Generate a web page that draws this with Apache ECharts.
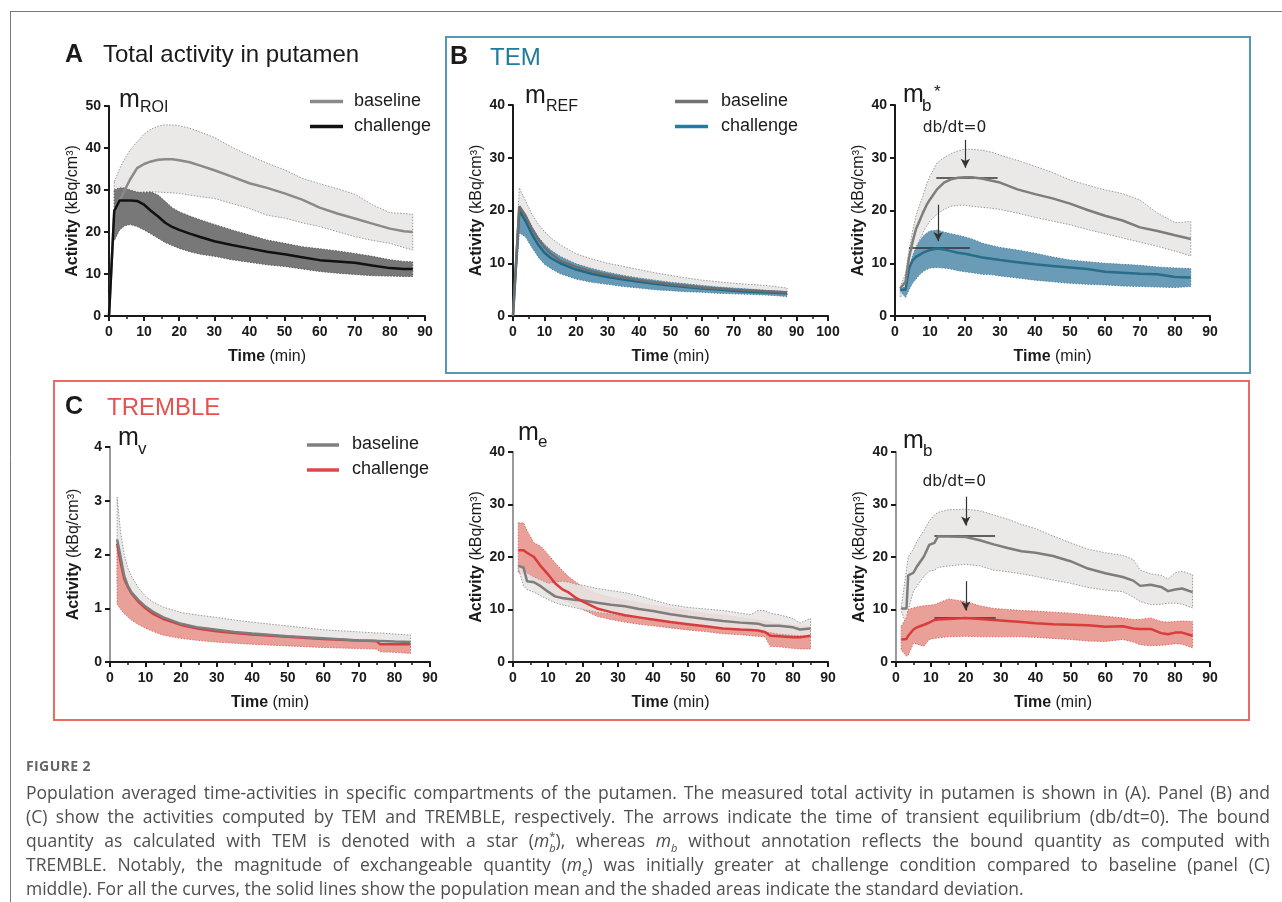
<!DOCTYPE html>
<html><head><meta charset="utf-8">
<script src="https://cdn.jsdelivr.net/npm/echarts/dist/echarts.min.js"></script>
<style>
html,body{margin:0;padding:0;background:#fff;}
#chart{position:absolute;left:0;top:0;width:1282px;height:902px;}
#cap{position:absolute;left:26px;top:756px;width:1244px;font-family:'Open Sans',Lato,sans-serif;color:#4f4f4f;}
.fig{font-weight:bold;font-size:14px;color:#666;letter-spacing:0.4px;line-height:20px;height:20px;margin-bottom:4px;font-family:'Open Sans',Lato,sans-serif;}
.ln{font-size:17.5px;line-height:24px;height:24px;text-align:justify;text-align-last:justify;overflow:visible;}
.ln.last{text-align-last:left;}
.ln sub,.ln sup{font-size:11px;line-height:0;}
</style></head>
<body>
<div id="chart"></div>
<div id="cap">
<div class="fig">FIGURE 2</div>
<div class="ln">Population averaged time-activities in specific compartments of the putamen. The measured total activity in putamen is shown in (A). Panel (B) and</div>
<div class="ln">(C) show the activities computed by TEM and TREMBLE, respectively. The arrows indicate the time of transient equilibrium (db/dt=0). The bound</div>
<div class="ln">quantity as calculated with TEM is denoted with a star (<i>m</i><sup>*</sup><sub style="margin-left:-6px"><i>b</i></sub>), whereas <i>m<sub>b</sub></i> without annotation reflects the bound quantity as computed with</div>
<div class="ln">TREMBLE. Notably, the magnitude of exchangeable quantity (<i>m<sub>e</sub></i>) was initially greater at challenge condition compared to baseline (panel (C)</div>
<div class="ln last">middle). For all the curves, the solid lines show the population mean and the shaded areas indicate the standard deviation.</div>
</div>
<script>
// ---------- DATA ----------
// Panel A: total activity in putamen (m_ROI)
const A_time      = [0, 1.5, 3, 4.5, 6, 8, 10, 12, 14, 16, 18, 20, 23, 26, 30, 35, 40, 45, 50, 55, 60, 65, 70, 75, 80, 84, 86.5];
const A_base_mean = [0, 25, 27.5, 30, 32.5, 35.2, 36.2, 36.8, 37.2, 37.3, 37.3, 37.1, 36.6, 35.8, 34.7, 33.2, 31.6, 30.5, 29.2, 27.7, 25.8, 24.4, 23.2, 22, 20.8, 20.2, 20];
const A_base_up   = [null, 32, 35, 37.5, 39.5, 41.5, 43.3, 44.5, 45.2, 45.5, 45.5, 45.3, 44.7, 43.8, 42.5, 40.2, 38.2, 36.4, 34.8, 32.8, 31.5, 30.3, 29, 26.5, 24.6, 24.4, 24.2];
const A_base_lo   = [null, 18, 21, 24, 27, 29.2, 29.6, 29.6, 29.5, 29.4, 29.3, 29.2, 28.8, 28.4, 28, 26.8, 25.6, 24, 23.3, 22.2, 21.3, 20.1, 18.9, 18, 17.3, 16.3, 15.7];
const A_chal_mean = [0, 25, 27.5, 27.5, 27.5, 27.4, 26.5, 25, 23.7, 22.2, 21.2, 20.5, 19.6, 18.8, 17.8, 16.9, 16.1, 15.3, 14.7, 14, 13.3, 13, 12.7, 12, 11.4, 11.2, 11.2];
const A_chal_up   = [null, 30, 30.5, 30.5, 30, 29.5, 29.4, 29.5, 28.8, 27.3, 25.8, 24.8, 23.8, 22.9, 21.8, 20.5, 19.3, 18.1, 17.3, 16.5, 16, 15.5, 14.9, 14.2, 13.4, 13, 12.9];
const A_chal_lo   = [null, 18, 20.5, 21.5, 21.8, 21.3, 20.5, 19.5, 18.5, 17.5, 16.8, 16.1, 15.3, 14.7, 14.2, 13.4, 12.8, 12.2, 11.8, 11.2, 10.6, 10.2, 9.9, 9.6, 9.5, 9.4, 9.4];

// Panel B left: TEM m_REF
const B1_time      = [0, 2, 4, 6, 8, 10, 12, 15, 20, 25, 30, 35, 40, 45, 50, 55, 60, 65, 70, 75, 80, 87];
const B1_base_mean = [0, 20.8, 19, 16.5, 14.6, 13, 11.8, 10.5, 9.3, 8.5, 7.8, 7.3, 6.8, 6.4, 6, 5.7, 5.4, 5.2, 5, 4.85, 4.7, 4.5];
const B1_base_up   = [0, 24.3, 21.8, 19.3, 17.4, 16, 14.8, 13.5, 11.8, 10.8, 10, 9.4, 8.8, 8.2, 7.7, 7.2, 6.8, 6.5, 6.2, 6, 5.8, 5.3];
const B1_base_lo   = [0, 17, 15.8, 13.8, 12.2, 11, 10, 9.2, 8.2, 7.4, 6.8, 6.4, 6, 5.6, 5.3, 5.1, 4.9, 4.7, 4.5, 4.3, 4.2, 4];
const B1_chal_mean = [0, 20, 18, 15.5, 13.5, 12, 11, 10, 8.8, 8, 7.4, 6.9, 6.5, 6.1, 5.8, 5.5, 5.2, 5, 4.8, 4.6, 4.5, 4.3];
const B1_chal_up   = [0, 20.8, 19.2, 17, 15, 13.6, 12.5, 11.3, 9.9, 9, 8.3, 7.7, 7.2, 6.8, 6.4, 6.1, 5.8, 5.5, 5.3, 5.1, 4.9, 4.6];
const B1_chal_lo   = [0, 15.8, 15, 13, 11.2, 9.8, 9, 8, 7, 6.4, 6, 5.6, 5.3, 5, 4.8, 4.6, 4.5, 4.3, 4.2, 4.1, 4, 3.7];

// Panel B right: TEM m_b*
const B2_time      = [1.5, 3, 4, 5, 6, 7, 8, 9, 10, 12, 14, 16, 18, 20, 22, 25, 28, 30, 35, 40, 45, 50, 55, 60, 65, 70, 75, 80, 84.5];
const B2_base_mean = [5.2, 6.5, 11, 14, 16.5, 18, 19.6, 21, 22.1, 24, 25.3, 25.9, 26.2, 26.3, 26.3, 26, 25.6, 25.3, 24, 23.1, 22.3, 21.3, 20.1, 19, 18.1, 16.8, 16.1, 15.3, 14.6];
const B2_base_up   = [5.5, 8, 12.5, 16, 19, 21, 22.7, 25, 26.5, 29, 30, 30.8, 31.3, 31.6, 31.6, 31.4, 31, 30.5, 29.5, 28.4, 27.2, 25.8, 24.8, 23.9, 23.2, 22, 19.5, 17.7, 17.9];
const B2_base_lo   = [3.5, 5, 8.7, 11, 13, 14.4, 15.8, 17, 18, 19.3, 20.2, 20.8, 21, 21, 20.8, 20.6, 20.4, 20.2, 19.5, 18.7, 18, 17.3, 16.4, 15.6, 14.8, 14, 13.2, 12.3, 11.4];
const B2_chal_mean = [5, 5, 9, 10.5, 11.2, 11.6, 12, 12.3, 12.5, 12.8, 12.6, 12.3, 12, 11.8, 11.5, 11.1, 10.8, 10.6, 10.2, 9.8, 9.5, 9.2, 8.9, 8.4, 8.2, 8, 7.9, 7.4, 7.3];
const B2_chal_up   = [5.2, 5.5, 9, 11.3, 13, 14.2, 15.1, 15.7, 16.1, 16.3, 15.9, 15.6, 15.3, 15, 14.6, 13.8, 13.3, 13, 12.5, 11.9, 11.2, 10.6, 10.3, 10, 9.8, 9.6, 9.3, 9.1, 9];
const B2_chal_lo   = [4.8, 3.5, 5, 6.2, 7, 7.8, 8.4, 8.8, 9.1, 9.2, 9.1, 8.9, 8.6, 8.4, 8.2, 7.9, 7.8, 7.6, 7.2, 6.8, 6.5, 6.2, 6, 5.9, 5.7, 5.6, 5.5, 5.4, 5.6];
// transient equilibrium markers: [x0, x1, y] and [x, yFrom, yTo]
const B2_eq_lines  = [[11.8, 29.3, 26.3], [4, 21.4, 12.85]];
const B2_eq_arrows = [[20.1, 33.4, 28.1], [12.3, 21.1, 14.2]];
const B2_eq_label  = [17, 35.7];

// Panel C left: TREMBLE m_v
const C1_time      = [2, 3, 4, 5, 6, 8, 10, 12, 15, 20, 25, 30, 35, 40, 50, 60, 70, 75, 76, 80, 84.5];
const C1_base_mean = [2.28, 1.95, 1.6, 1.42, 1.3, 1.15, 1.03, 0.94, 0.83, 0.71, 0.64, 0.6, 0.56, 0.53, 0.48, 0.44, 0.4, 0.39, 0.39, 0.38, 0.37];
const C1_base_up   = [3.07, 2.4, 2.0, 1.75, 1.6, 1.38, 1.22, 1.12, 1.02, 0.92, 0.87, 0.83, 0.78, 0.74, 0.67, 0.6, 0.56, 0.54, 0.54, 0.52, 0.5];
const C1_base_lo   = [1.5, 1.45, 1.25, 1.12, 1.02, 0.9, 0.8, 0.73, 0.65, 0.56, 0.51, 0.48, 0.45, 0.43, 0.39, 0.36, 0.33, 0.31, 0.3, 0.28, 0.26];
const C1_chal_mean = [2.2, 1.85, 1.55, 1.4, 1.28, 1.12, 1.0, 0.9, 0.8, 0.69, 0.62, 0.57, 0.54, 0.51, 0.47, 0.43, 0.4, 0.39, 0.33, 0.33, 0.33];
const C1_chal_up   = [2.2, 1.9, 1.58, 1.42, 1.3, 1.14, 1.02, 0.92, 0.82, 0.71, 0.64, 0.59, 0.56, 0.53, 0.48, 0.44, 0.41, 0.4, 0.34, 0.34, 0.34];
const C1_chal_lo   = [1.08, 0.98, 0.9, 0.84, 0.78, 0.7, 0.63, 0.57, 0.5, 0.44, 0.4, 0.37, 0.35, 0.33, 0.3, 0.27, 0.25, 0.24, 0.19, 0.18, 0.16];

// Panel C middle: TREMBLE m_e
const C2_time      = [1.5, 3, 4, 6, 8, 10, 12, 14, 16, 18, 20, 24, 28, 32, 36, 40, 45, 50, 55, 60, 65, 68, 70, 72, 73.5, 76, 80, 82, 85];
const C2_base_mean = [18.3, 18, 15.4, 15.2, 14.4, 13.4, 12.5, 12.2, 12, 11.8, 11.7, 11.3, 10.9, 10.6, 10.1, 9.7, 9.1, 8.6, 8.2, 7.8, 7.5, 7.4, 7.3, 6.9, 6.9, 6.9, 6.6, 6.2, 6.4];
const C2_base_up   = [18.5, 17.6, 17, 16.2, 15.6, 15, 15.2, 15.4, 15.2, 14.8, 14.6, 14, 13.6, 13.2, 12.6, 11.8, 10.9, 10.4, 10.1, 9.8, 9.3, 9, 9.8, 9.8, 9.3, 9, 8.3, 7.4, 8.3];
const C2_base_lo   = [18, 14.5, 13.8, 13.3, 12.6, 11.9, 11.3, 10.9, 10.6, 10.3, 10, 9.5, 9.1, 8.7, 8.3, 7.9, 7.4, 7, 6.6, 6.3, 6.1, 5.9, 5.8, 5.7, 5.6, 5.3, 5.1, 5, 4.9];
const C2_chal_mean = [21.3, 21.3, 20.8, 20, 18.2, 16.7, 15, 13.9, 13.2, 12.2, 11.5, 10.2, 9.5, 8.9, 8.5, 8.1, 7.6, 7.2, 6.8, 6.4, 6.2, 6.1, 6, 5.7, 5, 4.9, 4.7, 4.7, 5];
const C2_chal_up   = [26.5, 26.5, 25, 22.7, 22, 20.5, 18.9, 17.5, 16.2, 15.2, 14.3, 13, 12.3, 11.8, 11.3, 10.8, 10.3, 9.8, 9.3, 8.9, 8.5, 8.2, 8, 7.8, 7.6, 7.3, 7, 6.9, 6.7];
const C2_chal_lo   = [17, 16.8, 16.3, 15.3, 14.2, 13.3, 12.6, 11.9, 11.3, 10.6, 10, 8.7, 8.1, 7.6, 7.2, 6.9, 6.5, 6.1, 5.8, 5.4, 5.2, 5, 4.9, 4.8, 3, 2.9, 2.6, 2.5, 2.5];

// Panel C right: TREMBLE m_b
const C3_time      = [1.5, 3, 3.5, 5, 6, 8, 9.5, 11, 12, 15, 20, 24, 28, 32, 36, 40, 45, 50, 55, 60, 65, 68, 70, 73, 76, 78, 80, 82, 85];
const C3_base_mean = [10.2, 10.2, 16.5, 17, 18.2, 20.1, 22.3, 22.7, 23.9, 23.9, 23.8, 23.2, 22.4, 21.7, 21.1, 20.8, 20.2, 19.2, 17.8, 16.9, 16.2, 15.5, 14.5, 14.7, 14.3, 13.5, 13.8, 14, 13.3];
const C3_base_up   = [10.5, 17.5, 20, 21.5, 23, 25, 26.8, 28, 28.5, 29, 29.1, 28.8, 28, 27.2, 26.2, 25.4, 24, 22.7, 21.5, 20.8, 20.3, 19.5, 17.5, 16.8, 16.5, 15.8, 17, 17.3, 16.6];
const C3_base_lo   = [9.8, 7, 10, 13.5, 14.5, 16.3, 17.3, 17.5, 18, 18.3, 18.6, 18.3, 17.5, 17.2, 16.8, 16.3, 15.6, 15, 14.2, 13.7, 13.4, 12.4, 11.5, 10.9, 11, 11.2, 11.2, 11, 10.3];
const C3_chal_mean = [4.3, 4.4, 5, 6.2, 6.6, 7.1, 7.5, 8, 8.1, 8.2, 8.4, 8.2, 8, 7.8, 7.6, 7.4, 7.2, 7.1, 7, 6.7, 6.8, 6.4, 6.3, 6.3, 5.5, 5.3, 5.6, 5.6, 5];
const C3_chal_up   = [6.8, 8.5, 10, 10.3, 10.5, 10.7, 10.8, 10.9, 11.2, 12, 11.5, 10.7, 10.2, 10, 9.8, 9.7, 9.5, 9.3, 9, 8.7, 8.4, 8.1, 8.1, 8.4, 7.7, 7.6, 7.7, 7.8, 7.7];
const C3_chal_lo   = [2.3, 1.1, 1.3, 3.6, 3.4, 3, 4.3, 4.5, 4.6, 4.8, 4.9, 4.8, 4.8, 4.8, 4.8, 4.7, 4.5, 4.3, 4, 3.9, 4.3, 3.8, 3.3, 3.1, 3.2, 3.3, 3.5, 3.4, 2.7];
const C3_eq_lines  = [[11, 28.4, 24.1], [11, 28.6, 8.4]];
const C3_eq_arrows = [[20, 31.5, 26], [20, 15.4, 9.8]];
const C3_eq_label  = [16.7, 34.2];

// axis ranges per panel
const xMaxes = [90, 100, 90, 90, 90, 90];
const yMaxes = [50, 40, 40, 4, 40, 40];
const yIntervals = [10, 10, 10, 1, 10, 10];

// ---------- STYLE / BUILD ----------
const FONT = '"Liberation Sans", Arial, Helvetica, sans-serif';
const INK = '#1a1a1a';
const grids = [
  {left:109, top:106, width:316, height:210},
  {left:513, top:105, width:315, height:211},
  {left:895, top:105, width:315, height:211},
  {left:110, top:447, width:320, height:215},
  {left:513, top:452, width:315, height:210},
  {left:896, top:452, width:314, height:210}
];
const BASE_FILL = '#ebe8e8', BASE_STROKE = '#9a9a9a', BASE_LINE = '#7d7d7d';

function xAx(i){
  return {gridIndex:i, type:'value', min:0, max:xMaxes[i], interval:10,
    axisLine:{show:true, onZero:false, lineStyle:{color:INK, width:2}},
    axisTick:{show:true, length:5, lineStyle:{color:INK, width:2}},
    minorTick:{show:true, splitNumber:2, length:3, lineStyle:{color:INK, width:1.5}},
    splitLine:{show:false},
    axisLabel:{color:INK, fontSize:14, fontWeight:'bold', fontFamily:FONT, margin:9},
    name:'{b|Time} {n|(min)}', nameLocation:'middle', nameGap:33,
    nameTextStyle:{color:INK, fontSize:16, fontFamily:FONT,
      rich:{b:{fontWeight:'bold', fontSize:16, fontFamily:FONT, color:INK}, n:{fontSize:16, fontFamily:FONT, color:INK}}}
  };
}
function yAx(i){
  const lineCol = i >= 3 ? '#9a9a9a' : INK;
  return {gridIndex:i, type:'value', min:0, max:yMaxes[i], interval:yIntervals[i],
    axisLine:{show:true, onZero:false, lineStyle:{color:lineCol, width:2}},
    axisTick:{show:true, length:5, lineStyle:{color:INK, width:2}},
    splitLine:{show:false},
    axisLabel:{color:INK, fontSize:14, fontWeight:'bold', fontFamily:FONT, margin:8},
    name:'{b|Activity} {n|(kBq/cm³)}', nameLocation:'middle', nameGap:28,
    nameTextStyle:{color:INK, fontSize:16, fontFamily:FONT,
      rich:{b:{fontWeight:'bold', fontSize:16, fontFamily:FONT, color:INK}, n:{fontSize:16, fontFamily:FONT, color:INK}}}
  };
}
function band(gi, t, lo, up, fill, stroke, z){
  const pts = t.map((x,i)=>[x, lo[i], up[i]]).filter(d=>d[1]!=null && d[2]!=null);
  return {type:'custom', xAxisIndex:gi, yAxisIndex:gi, z:z, silent:true, clip:true,
    data: pts, encode:{x:0, y:[1,2]},
    renderItem: function(params, api){
      if (params.dataIndex !== 0) return null;
      const top = pts.map(d=>api.coord([d[0], d[2]]));
      const bot = pts.map(d=>api.coord([d[0], d[1]])).reverse();
      return {type:'polygon', shape:{points: top.concat(bot)},
        style:{fill:fill, stroke:stroke, lineWidth:1, lineDash:[1.5,1.5]}};
    }};
}
function mean(gi, t, v, color, z, extra){
  const s = {type:'line', xAxisIndex:gi, yAxisIndex:gi, z:z, silent:true,
    data: t.map((x,i)=>[x, v[i]]).filter(d=>d[1]!=null),
    showSymbol:false, symbol:'none', lineStyle:{color:color, width:2.5}};
  return Object.assign(s, extra||{});
}
function eqMarks(lines, arrows, label){
  const data = [];
  lines.forEach(l=>data.push([{coord:[l[0], l[2]], symbol:'none'}, {coord:[l[1], l[2]], symbol:'none'}]));
  arrows.forEach(a=>data.push([{coord:[a[0], a[1]], symbol:'none', lineStyle:{width:1.2, color:'#333'}},
                               {coord:[a[0], a[2]], symbol:'arrow', symbolSize:[7,9]}]));
  return {
    markLine:{silent:true, animation:false, label:{show:false}, symbol:['none','none'],
      lineStyle:{color:'#333', width:1.6, type:'solid'}, data:data},
    markPoint:{silent:true, animation:false, data:[{coord:label, symbol:'circle', symbolSize:0,
      label:{show:true, position:'inside', formatter:'db/dt=0', color:'#222', fontSize:15.5, fontFamily:'"DejaVu Sans", sans-serif'}}]}
  };
}

const series = [
  // A
  band(0, A_time, A_base_lo, A_base_up, BASE_FILL, BASE_STROKE, 1),
  band(0, A_time, A_chal_lo, A_chal_up, '#787878', '#5a5a5a', 2),
  mean(0, A_time, A_base_mean, '#8a8a8a', 5),
  mean(0, A_time, A_chal_mean, '#111111', 6),
  // B1
  band(1, B1_time, B1_base_lo, B1_base_up, BASE_FILL, BASE_STROKE, 1),
  band(1, B1_time, B1_chal_lo, B1_chal_up, '#6699b5', '#4a86a6', 2),
  mean(1, B1_time, B1_chal_mean, '#1d6a88', 5),
  mean(1, B1_time, B1_base_mean, '#6e6e6e', 6),
  // B2
  band(2, B2_time, B2_base_lo, B2_base_up, BASE_FILL, BASE_STROKE, 1),
  band(2, B2_time, B2_chal_lo, B2_chal_up, '#6b9cb7', '#4a86a6', 2),
  mean(2, B2_time, B2_chal_mean, '#2a6d88', 5),
  mean(2, B2_time, B2_base_mean, BASE_LINE, 6, eqMarks(B2_eq_lines, B2_eq_arrows, B2_eq_label)),
  // C1
  band(3, C1_time, C1_base_lo, C1_base_up, BASE_FILL, BASE_STROKE, 1),
  band(3, C1_time, C1_chal_lo, C1_chal_up, '#e8a098', '#e06a60', 2),
  mean(3, C1_time, C1_chal_mean, '#da3b3b', 5),
  mean(3, C1_time, C1_base_mean, BASE_LINE, 6),
  // C2
  band(4, C2_time, C2_chal_lo, C2_chal_up, '#e8a098', '#e06a60', 1),
  band(4, C2_time, C2_base_lo, C2_base_up, 'rgba(232,229,229,0.88)', BASE_STROKE, 2),
  mean(4, C2_time, C2_base_mean, BASE_LINE, 5),
  mean(4, C2_time, C2_chal_mean, '#da3b3b', 6),
  // C3
  band(5, C3_time, C3_base_lo, C3_base_up, BASE_FILL, BASE_STROKE, 1),
  band(5, C3_time, C3_chal_lo, C3_chal_up, '#e8a098', '#e06a60', 2),
  mean(5, C3_time, C3_chal_mean, '#da3b3b', 5),
  mean(5, C3_time, C3_base_mean, BASE_LINE, 6, eqMarks(C3_eq_lines, C3_eq_arrows, C3_eq_label))
];

function txt(x, y, text, size, opt){
  opt = opt || {};
  return {type:'text', x:x, y:y, z:10, silent:true, style:{text:text, fontSize:size, fontFamily:opt.family||FONT,
    fontWeight:opt.weight||'normal', fill:opt.color||INK, align:'left', verticalAlign:'middle'}};
}
function seg(x1, y1, x2, y2, color, w){
  return {type:'line', z:10, silent:true, shape:{x1:x1, y1:y1, x2:x2, y2:y2}, style:{stroke:color, lineWidth:w}};
}

const graphic = [
  seg(10, 11.5, 1282, 11.5, '#7a7a7a', 1),
  seg(10.5, 11, 10.5, 902, '#7a7a7a', 1),
  {type:'rect', z:10, silent:true, shape:{x:446, y:37, width:804, height:336}, style:{fill:'none', stroke:'#5598b4', lineWidth:2}},
  {type:'rect', z:10, silent:true, shape:{x:54, y:381, width:1195, height:339}, style:{fill:'none', stroke:'#ec6a62', lineWidth:2}},
  // panel titles
  txt(65, 55, 'A', 25, {weight:'bold'}),
  txt(103, 55, 'Total activity in putamen', 24),
  txt(450, 57, 'B', 25, {weight:'bold'}),
  txt(490, 58, 'TEM', 24, {color:'#1f7a9b'}),
  txt(65, 407, 'C', 25, {weight:'bold'}),
  txt(107, 408, 'TREMBLE', 24, {color:'#e8504d'}),
  // compartment labels
  txt(119, 100, 'm', 25), txt(140, 108, 'ROI', 16),
  txt(525, 96, 'm', 25), txt(546, 107, 'REF', 16),
  txt(903, 95, 'm', 25), txt(922, 106, 'b', 17), txt(934, 92, '*', 17),
  txt(118, 438, 'm', 25), txt(138, 449, 'v', 17),
  txt(518, 433, 'm', 25), txt(538, 442, 'e', 17),
  txt(903, 441, 'm', 25), txt(923, 451, 'b', 17),
  // legends
  seg(310, 101.5, 343, 101.5, '#8a8a8a', 3.5), txt(354, 101, 'baseline', 18),
  seg(310, 126.5, 343, 126.5, '#111111', 3.5), txt(354, 126, 'challenge', 18),
  seg(675, 101.5, 708, 101.5, '#727272', 3.5), txt(721, 101, 'baseline', 18),
  seg(675, 126.5, 708, 126.5, '#1e7fa3', 3.5), txt(721, 126, 'challenge', 18),
  seg(307, 445, 339, 445, '#808080', 3.5), txt(352, 444, 'baseline', 18),
  seg(307, 470, 339, 470, '#e04848', 3.5), txt(352, 469, 'challenge', 18)
];

const option = {
  backgroundColor:'#ffffff',
  animation:false,
  grid: grids,
  xAxis: grids.map((g,i)=>xAx(i)),
  yAxis: grids.map((g,i)=>yAx(i)),
  series: series,
  graphic: graphic
};
const chart = echarts.init(document.getElementById('chart'), null, {renderer:'canvas'});
chart.setOption(option);
</script>
</body></html>
